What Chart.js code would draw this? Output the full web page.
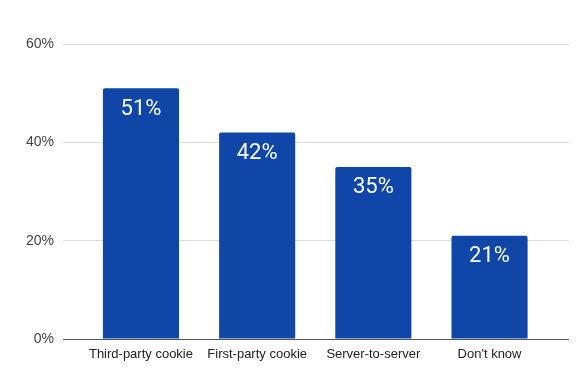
<!DOCTYPE html>
<html>
<head>
<meta charset="utf-8">
<script src="https://cdn.jsdelivr.net/npm/chart.js@4/dist/chart.umd.min.js"></script>
<style>
    html, body { margin: 0; padding: 0; background: #fff; }
    #wrap { width: 586px; height: 375px; }
</style>
</head>
<body>
<div id="wrap"><canvas id="cookieChart"></canvas></div>
<script>
// Chart data
const categories = ['Third-party cookie', 'First-party cookie', 'Server-to-server', "Don't know"];
const shares = [51, 42, 35, 21];
const yTicks = [0, 20, 40, 60];

// Draw the value label inside the top of each bar
const barLabels = {
    id: 'barLabels',
    afterDatasetsDraw: function (chart) {
        const ctx = chart.ctx;
        const meta = chart.getDatasetMeta(0);
        ctx.save();
        ctx.fillStyle = '#ffffff';
        ctx.font = '22px Roboto';
        ctx.textAlign = 'center';
        ctx.textBaseline = 'middle';
        meta.data.forEach((bar, i) => {
            ctx.fillText(shares[i] + '%', bar.x, bar.y + 21);
        });
        ctx.restore();
    }
};

new Chart(document.getElementById('cookieChart'), {
    type: 'bar',
    data: {
        datasets: [{
            data: shares.map((v, i) => ({ x: i, y: v })),
            backgroundColor: '#0f46a7',
            borderRadius: 2,
            borderSkipped: 'start',
            barPercentage: 0.655,
            categoryPercentage: 1
        }]
    },
    options: {
        responsive: true,
        maintainAspectRatio: false,
        animation: false,
        layout: { padding: { top: 44, right: 17, left: 0, bottom: 0 } },
        plugins: {
            legend: { display: false },
            tooltip: { enabled: false }
        },
        scales: {
            x: {
                type: 'linear',
                offset: false,
                min: -0.671,
                max: 3.684,
                afterBuildTicks: function (axis) {
                    axis.ticks = categories.map((c, i) => ({ value: i }));
                },
                afterFit: function (axis) { axis.height = 36; },
                grid: { display: false, offset: false },
                border: { display: false },
                ticks: {
                    autoSkip: false,
                    maxRotation: 0,
                    padding: 0,
                    color: '#222',
                    font: { family: 'Liberation Sans', size: 13 },
                    callback: function (value) { return categories[value]; }
                }
            },
            y: {
                min: 0,
                max: 60,
                afterBuildTicks: function (axis) {
                    axis.ticks = yTicks.map(v => ({ value: v }));
                },
                afterFit: function (axis) { axis.width = 63; },
                border: { display: false },
                grid: {
                    drawTicks: false,
                    color: ctx => ctx.tick && ctx.tick.value === 0 ? '#555' : '#dcdcdc',
                    lineWidth: 1
                },
                ticks: {
                    padding: 9,
                    color: '#444',
                    font: { family: 'Liberation Sans', size: 14 },
                    callback: v => v + '%'
                }
            }
        }
    },
    plugins: [barLabels]
});
</script>
</body>
</html>
